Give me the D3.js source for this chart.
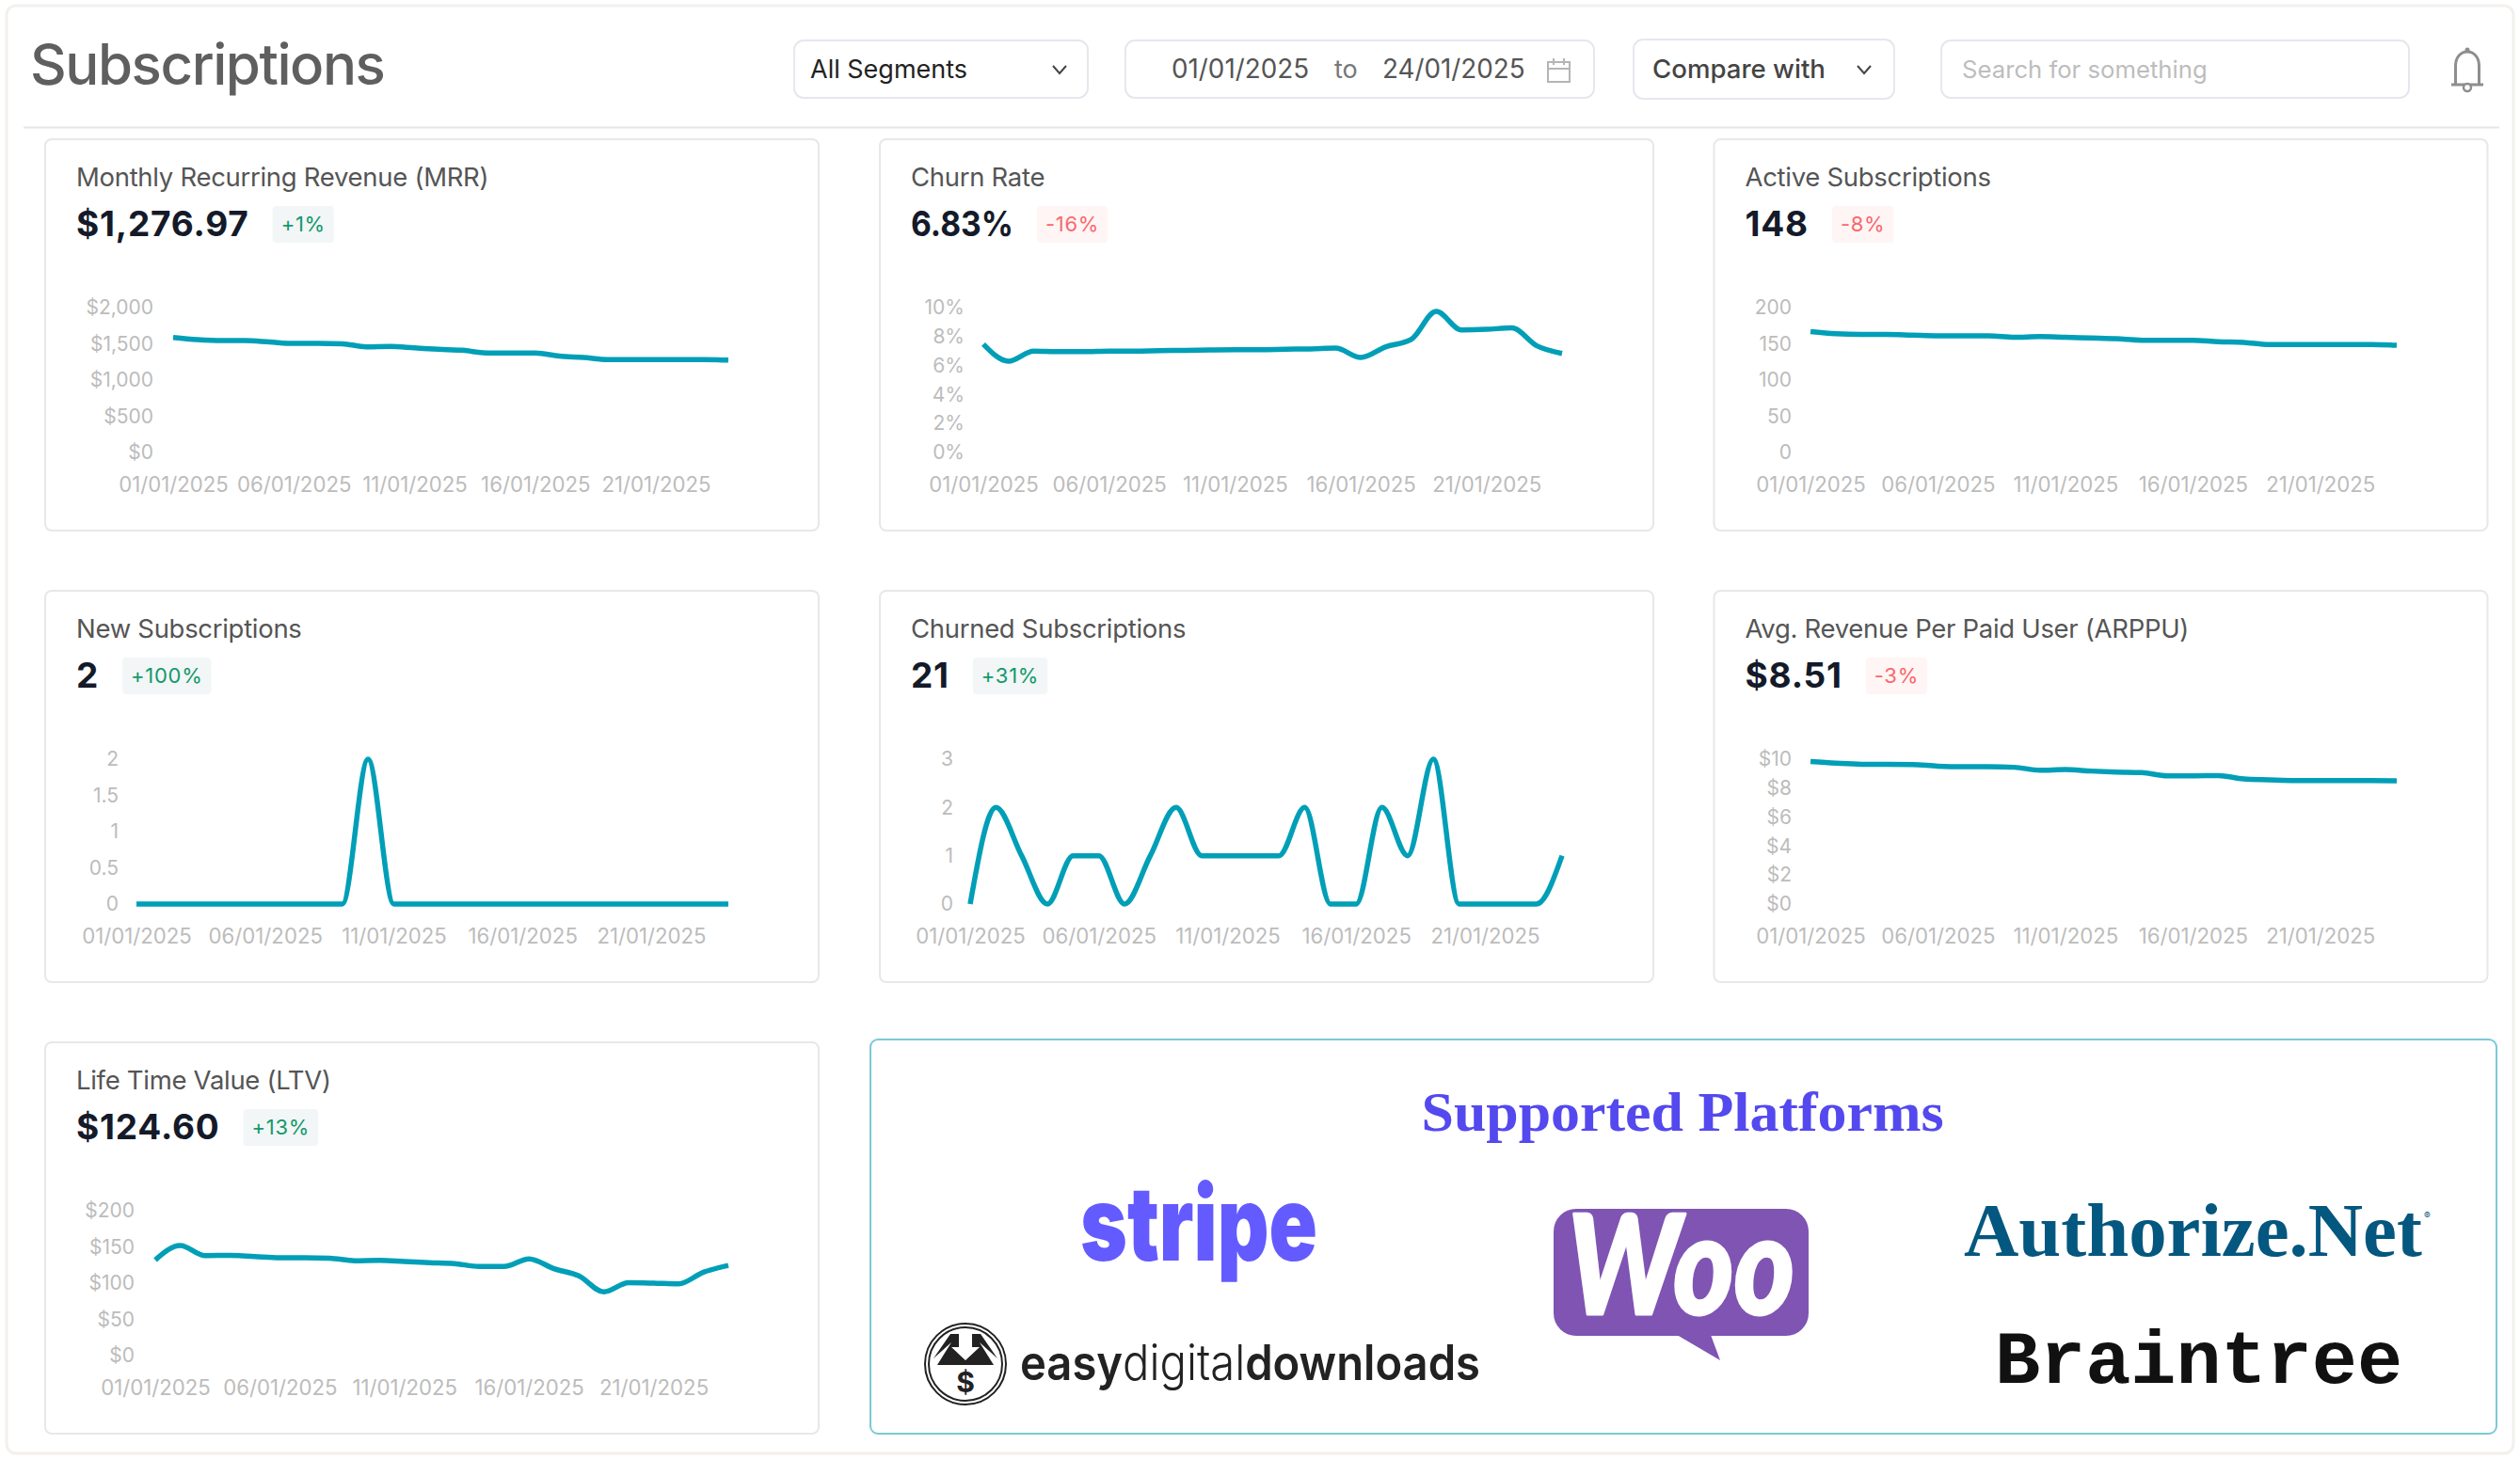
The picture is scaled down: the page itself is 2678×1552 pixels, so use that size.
<!DOCTYPE html>
<html>
<head>
<meta charset="utf-8">
<title>Subscriptions</title>
<script src="https://cdn.jsdelivr.net/npm/d3@7"></script>
<style>
  body { margin: 0; background: #fff; font-family: Inter, sans-serif; }
  svg { display: block; }
</style>
</head>
<body>
<div id="chart"></div>
<script>
// days on the x axis
var days = ["01/01/2025","02/01/2025","03/01/2025","04/01/2025","05/01/2025","06/01/2025","07/01/2025","08/01/2025",
  "09/01/2025","10/01/2025","11/01/2025","12/01/2025","13/01/2025","14/01/2025","15/01/2025","16/01/2025",
  "17/01/2025","18/01/2025","19/01/2025","20/01/2025","21/01/2025","22/01/2025","23/01/2025","24/01/2025"];

// series values
var mrrValues = [1587,1558,1544,1544,1525,1506,1506,1501,1458,1463,1444,1425,1411,1373,1373,1373,1330,1311,1283,1283,1283,1283,1283,1277];
var churnRateValues = [7.48,6.3,7.0,6.96,6.96,7.0,7.0,7.03,7.05,7.08,7.1,7.1,7.13,7.15,7.2,6.56,7.3,7.8,9.74,8.46,8.5,8.6,7.36,6.83];
var activeValues = [167,164,163,163,162,161,161,161,159,160,159,158,157,155,155,155,153,152,149,149,149,149,149,148];
var newValues = [0,0,0,0,0,0,0,0,0,2,0,0,0,0,0,0,0,0,0,0,0,0,0,0];
var churnedValues = [0,2,1,0,1,1,0,1,2,1,1,1,1,2,0,0,2,1,3,0,0,0,0,1];
var arppuValues = [9.83,9.72,9.65,9.65,9.63,9.52,9.48,9.48,9.44,9.24,9.28,9.18,9.11,9.07,8.85,8.85,8.87,8.63,8.57,8.52,8.52,8.52,8.52,8.51];
var ltvValues = [132,152,138,138.4,136.7,135,135,134.5,131,131.5,130,128.4,127,123,123,133.6,120,110,88,100.6,100,99,115,124.6];

// y axis ticks
var mrrTicks = [0,500,1000,1500,2000];
var churnRateTicks = [0,2,4,6,8,10];
var activeTicks = [0,50,100,150,200];
var newTicks = [0,0.5,1,1.5,2];
var churnedTicks = [0,1,2,3];
var arppuTicks = [0,2,4,6,8,10];
var ltvTicks = [0,50,100,150,200];

// card texts
var cardTitles = ["Monthly Recurring Revenue (MRR)","Churn Rate","Active Subscriptions","New Subscriptions",
  "Churned Subscriptions","Avg. Revenue Per Paid User (ARPPU)","Life Time Value (LTV)"];
var cardValues = ["$1,276.97","6.83%","148","2","21","$8.51","$124.60"];
var cardBadges = ["+1%","-16%","-8%","+100%","+31%","-3%","+13%"];

var width = 2678, height = 1552;
var lineColor = "#009fb7";
var fmtDollar = d3.format("$,");
var fmtPercent = function(d) { return d + "%"; };
var fmtPlain = function(d) { return String(d); };

var svg = d3.select("#chart").append("svg")
  .attr("width", width)
  .attr("height", height)
  .attr("font-family", "Inter, sans-serif");

// outer frame
svg.append("rect")
  .attr("x", 7).attr("y", 6).attr("width", 2664).attr("height", 1539).attr("rx", 10)
  .attr("fill", "#fff").attr("stroke", "#f3f0ed").attr("stroke-width", 3);

// ---- header ----
svg.append("text").attr("x", 32).attr("y", 90)
  .attr("font-size", 60).attr("font-weight", 500).attr("fill", "#5f5f5f").attr("letter-spacing", -1.45)
  .text("Subscriptions");

svg.append("line")
  .attr("x1", 25).attr("x2", 2656).attr("y1", 135.5).attr("y2", 135.5)
  .attr("stroke", "#e6e6e6").attr("stroke-width", 2);

function controlBox(x, y, w, h) {
  svg.append("rect")
    .attr("x", x).attr("y", y).attr("width", w).attr("height", h).attr("rx", 10)
    .attr("fill", "#fff").attr("stroke", "#e6e7ee").attr("stroke-width", 2);
}

function controlText(x, label, color, weight, size) {
  svg.append("text").attr("x", x).attr("y", 83)
    .attr("font-size", size).attr("fill", color).attr("font-weight", weight)
    .text(label);
}

function chevron(cx, cy) {
  svg.append("path")
    .attr("d", d3.line()([[cx - 7, cy - 4], [cx, cy + 4], [cx + 7, cy - 4]]))
    .attr("fill", "none").attr("stroke", "#444").attr("stroke-width", 2);
}

controlBox(844, 43, 312, 61);
controlText(861, "All Segments", "#222", 400, 27);
chevron(1126, 74);

controlBox(1196, 43, 498, 61);
controlText(1245, "01/01/2025", "#555", 400, 27.8);
controlText(1418, "to", "#777", 400, 27);
controlText(1469, "24/01/2025", "#555", 400, 27.8);

// calendar icon
svg.append("rect").attr("x", 1645).attr("y", 66).attr("width", 23).attr("height", 21)
  .attr("fill", "none").attr("stroke", "#b5b5b5").attr("stroke-width", 2);
svg.append("path").attr("d", "M1645 73H1668M1651 62V69M1662 62V69")
  .attr("fill", "none").attr("stroke", "#b5b5b5").attr("stroke-width", 2);

controlBox(1736, 42, 277, 63);
controlText(1756, "Compare with", "#444", 500, 27.6);
chevron(1981, 74);

controlBox(2063, 43, 497, 61);
controlText(2085, "Search for something", "#bdbdbd", 400, 25.7);

// bell icon
svg.append("path")
  .attr("d", "M2605 90H2639M2609.5 90V70C2609.5 50 2634.5 50 2634.5 70V90")
  .attr("fill", "none").attr("stroke", "#8e8e8e").attr("stroke-width", 3);
svg.append("circle").attr("cx", 2622).attr("cy", 53).attr("r", 2.5).attr("fill", "#8e8e8e");
svg.append("circle").attr("cx", 2622).attr("cy", 93).attr("r", 4)
  .attr("fill", "#fff").attr("stroke", "#8e8e8e").attr("stroke-width", 2.5);

// ---- metric cards ----
function drawCard(i, cardX, cardY, values, ticks, fmt, axisRight, lineStart, lineEnd) {
  var g = svg.append("g").attr("transform", "translate(" + cardX + "," + cardY + ")");

  g.append("rect")
    .attr("x", 0).attr("y", 1).attr("width", 822).attr("height", 416).attr("rx", 7)
    .attr("fill", "#fff").attr("stroke", "#e7e7ec").attr("stroke-width", 2);

  g.append("text").attr("x", 33).attr("y", 51)
    .attr("font-size", 27.5).attr("fill", "#555").attr("letter-spacing", -0.3)
    .text(cardTitles[i]);

  var value = g.append("text").attr("x", 33).attr("y", 104)
    .attr("font-size", 37).attr("font-weight", 700).attr("fill", "#141a29").attr("letter-spacing", 0.8)
    .text(cardValues[i]);
  // the percent sign runs wide in this font
  if (cardValues[i].slice(-1) === "%") {
    value.attr("letter-spacing", null).attr("textLength", 109).attr("lengthAdjust", "spacingAndGlyphs");
  }

  // badge sits right after the value
  var positive = cardBadges[i].charAt(0) === "+";
  var valueWidth = cardValues[i].slice(-1) === "%" ? 109 : value.node().getComputedTextLength();
  var badgeX = 33 + valueWidth + 25;
  var badgeRect = g.append("rect")
    .attr("x", badgeX).attr("y", 72).attr("height", 39).attr("rx", 4)
    .attr("fill", positive ? "#f2f6f6" : "#fff5f5");
  var badge = g.append("text").attr("x", badgeX + 9).attr("y", 99)
    .attr("font-size", 22).attr("fill", positive ? "#12996b" : "#f9686d").attr("letter-spacing", 0.7)
    .text(cardBadges[i]);
  badgeRect.attr("width", badge.node().getComputedTextLength() + 18);

  var x = d3.scalePoint().domain(days).range([lineStart - cardX, lineEnd - cardX]);
  var y = d3.scaleLinear().domain([ticks[0], ticks[ticks.length - 1]]).range([334, 180]);

  var yAxis = g.append("g")
    .attr("transform", "translate(" + (axisRight - cardX) + ",0)")
    .call(d3.axisLeft(y).tickValues(ticks).tickFormat(fmt).tickSize(0).tickPadding(0));
  var xAxis = g.append("g")
    .attr("transform", "translate(0,334)")
    .call(d3.axisBottom(x).tickValues(days.filter(function(d, k) { return k % 5 === 0; })).tickSize(0).tickPadding(26));

  [yAxis, xAxis].forEach(function(axis) {
    axis.select(".domain").remove();
    axis.attr("font-family", null);
    axis.selectAll("text").attr("fill", "#bcbcbc");
  });
  yAxis.attr("font-size", 21);
  xAxis.attr("font-size", 22.2);

  var line = d3.line()
    .x(function(d, k) { return x(days[k]); })
    .y(function(d) { return y(d); })
    .curve(d3.curveMonotoneX);

  g.append("path").datum(values)
    .attr("d", line)
    .attr("fill", "none").attr("stroke", lineColor).attr("stroke-width", 5.5);
}

drawCard(0, 48, 147, mrrValues, mrrTicks, fmtDollar, 163, 184, 774);
drawCard(1, 935, 147, churnRateValues, churnRateTicks, fmtPercent, 1025, 1045, 1660);
drawCard(2, 1821.5, 147, activeValues, activeTicks, fmtPlain, 1904, 1924, 2547);
drawCard(3, 48, 627, newValues, newTicks, fmtPlain, 126, 145, 774);
drawCard(4, 935, 627, churnedValues, churnedTicks, fmtPlain, 1013, 1031, 1660);
drawCard(5, 1821.5, 627, arppuValues, arppuTicks, fmtDollar, 1904, 1924, 2547);
drawCard(6, 48, 1107, ltvValues, ltvTicks, fmtDollar, 143, 165, 774);

// ---- supported platforms ----
svg.append("rect")
  .attr("x", 925).attr("y", 1105).attr("width", 1728).attr("height", 419).attr("rx", 8)
  .attr("fill", "#fff").attr("stroke", "#7cc8d6").attr("stroke-width", 2);

svg.append("text").attr("x", 1788).attr("y", 1202).attr("text-anchor", "middle")
  .attr("font-family", "'Liberation Serif', serif").attr("font-weight", 700)
  .attr("font-size", 60).attr("fill", "#5449ee")
  .attr("textLength", 555).attr("lengthAdjust", "spacingAndGlyphs")
  .text("Supported Platforms");

// stripe
svg.append("text").attr("x", 1148).attr("y", 1340)
  .attr("font-family", "Inter, sans-serif").attr("font-weight", 900)
  .attr("font-size", 110).attr("fill", "#635bff")
  .attr("textLength", 252).attr("lengthAdjust", "spacingAndGlyphs")
  .text("stripe");

// woo bubble
svg.append("rect").attr("x", 1651).attr("y", 1285).attr("width", 271).attr("height", 135).attr("rx", 24)
  .attr("fill", "#7f54b3");
svg.append("path").attr("d", "M1782 1419L1828 1446L1818 1419Z").attr("fill", "#7f54b3");
svg.append("text").attr("x", 1666).attr("y", 1397)
  .attr("font-family", "Lato, sans-serif").attr("font-weight", 900).attr("font-style", "italic")
  .attr("font-size", 146).attr("fill", "#fff")
  .attr("stroke", "#fff").attr("stroke-width", 3).attr("stroke-linejoin", "round")
  .attr("textLength", 241).attr("lengthAdjust", "spacingAndGlyphs")
  .text("Woo");

// authorize.net, sized to its measured width so the box stays true
var authorize = svg.append("text").attr("x", 2087).attr("y", 1335)
  .attr("font-family", "'Liberation Serif', serif").attr("font-weight", 700)
  .attr("font-size", 88).attr("fill", "#04577f")
  .text("Authorize.Net");
authorize.attr("font-size", 88 * 487 / authorize.node().getComputedTextLength());
svg.append("text").attr("x", 2576).attr("y", 1296)
  .attr("font-size", 10).attr("fill", "#04577f").text("®");

// braintree
svg.append("text").attr("x", 2120).attr("y", 1470)
  .attr("font-family", "'Liberation Mono', monospace").attr("font-weight", 700)
  .attr("font-size", 80).attr("fill", "#111")
  .attr("textLength", 433).attr("lengthAdjust", "spacingAndGlyphs")
  .text("Braintree");

// easy digital downloads
var edd = svg.append("g").attr("transform", "translate(1026,1450)");
edd.append("circle").attr("r", 43).attr("fill", "#fff").attr("stroke", "#222").attr("stroke-width", 2);
edd.append("circle").attr("r", 39).attr("fill", "none").attr("stroke", "#222").attr("stroke-width", 2);
edd.append("path").attr("d", "M-34 -6L-16 -32H16L34 -6L15 -23L30 1H-30L-15 -23Z").attr("fill", "#222");
edd.append("path").attr("d", "M-7 -33H7V-18H15L0 -4L-15 -18H-7Z").attr("fill", "#fff");
edd.append("text").attr("y", 30).attr("text-anchor", "middle")
  .attr("font-size", 30).attr("font-weight", 700).attr("fill", "#222").text("$");

var eddText = svg.append("text").attr("x", 1084).attr("y", 1467)
  .attr("font-family", "Inter, sans-serif").attr("font-size", 52).attr("fill", "#222")
  .attr("textLength", 489).attr("lengthAdjust", "spacingAndGlyphs");
eddText.append("tspan").attr("font-weight", 600).text("easy");
eddText.append("tspan").attr("font-weight", 300).text("digital");
eddText.append("tspan").attr("font-weight", 600).text("downloads");
</script>
</body>
</html>
